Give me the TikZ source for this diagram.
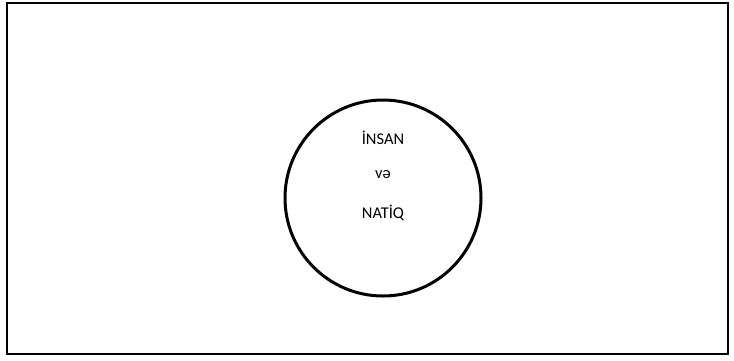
\documentclass[tikz,border=0pt]{standalone}
\usepackage{fontspec}
\setmainfont{Carlito}
\begin{document}
\begin{tikzpicture}[x=1bp,y=-1bp]
        \useasboundingbox (0,0) rectangle (734,360);
        \draw[line width=1.8bp] (7,3) rectangle (728,354);

        \node[circle, draw, line width=3bp, minimum size=196bp, inner sep=0pt] (ring) at (383,198) {};

        \node[font=\fontsize{16.5}{19}\selectfont] (insan) at (383,138) {İNSAN};
        \node[font=\fontsize{16.5}{19}\selectfont] (ve) at (383,175) {və};
        \node[font=\fontsize{16.5}{19}\selectfont] (natiq) at (383,213) {NATİQ};
        \end{tikzpicture}
\end{document}
